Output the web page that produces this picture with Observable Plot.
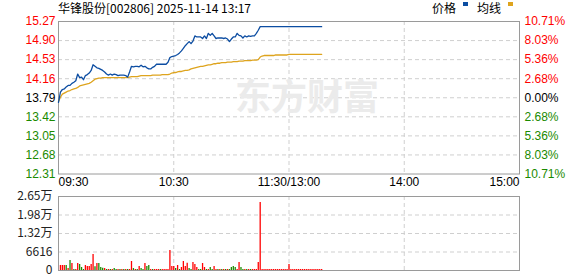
<!DOCTYPE html>
<html>
<head>
<meta charset="utf-8">
<script src="https://cdn.jsdelivr.net/npm/d3@7"></script>
<script src="https://cdn.jsdelivr.net/npm/@observablehq/plot@0.6"></script>
<style>
  html, body { margin: 0; padding: 0; background: #fff; }
  #wrap { position: relative; width: 578px; height: 276px; background: #fff; overflow: hidden;
          font-family: "Liberation Sans", Arial, sans-serif; }
  #main, #vol { position: absolute; left: 0; }
  #main { top: 0; }
  #vol { top: 190px; }
  #title { position: absolute; left: 58px; top: 0; height: 16px; line-height: 16px;
           font-size: 12px; font-family: "Noto Sans CJK SC", sans-serif; color: #000; white-space: nowrap; }
  #legend { position: absolute; left: 432px; top: 0; height: 16px; line-height: 16px;
            font-size: 12px; font-family: "Noto Sans CJK SC", sans-serif; color: #000; white-space: nowrap; }
  #legend span.sw { display: inline-block; width: 5px; height: 4px; vertical-align: 7px; margin: 0 9px 0 7px; }
</style>
</head>
<body>
<div id="wrap">
  <div id="main"></div>
  <div id="vol"></div>
  <div id="title"></div>
  <div id="legend"></div>
</div>
<script>
// ---- data ----
const stockName = "华锋股份";
const stockCode = "002806";
const stamp = "2025-11-14 13:17";
const seriesNames = ["价格", "均线"];
const prevClose = 13.79;

// minute index 0 = 09:30, 120 = 11:30/13:00, 240 = 15:00
const price = [
  13.70,13.90,13.95,13.96,14.00,14.03,14.03,14.07,14.09,14.12,
  14.25,14.18,14.19,14.14,14.22,14.24,14.27,14.32,14.43,14.40,
  14.37,14.36,14.34,14.32,14.29,14.25,14.23,14.25,14.23,14.25,
  14.24,14.22,14.23,14.23,14.23,14.22,14.19,14.29,14.40,14.39,
  14.40,14.40,14.39,14.42,14.39,14.40,14.37,14.35,14.35,14.38,
  14.40,14.44,14.44,14.44,14.44,14.44,14.44,14.48,14.57,14.59,
  14.60,14.61,14.63,14.66,14.70,14.75,14.80,14.84,14.88,14.84,
  14.89,14.99,14.97,14.97,14.97,14.94,14.99,14.94,15.04,15.00,
  15.04,14.99,14.94,14.95,14.95,14.95,14.94,14.95,14.93,14.88,
  14.93,14.97,14.97,15.04,15.00,14.99,14.95,14.99,14.97,14.99,
  14.98,14.99,14.99,15.04,15.10,15.17,15.17,15.17,15.17,15.17,
  15.17,15.17,15.17,15.17,15.17,15.17,15.17,15.17,15.17,15.17,
  15.17,15.17,15.17,15.17,15.17,15.17,15.17,15.17,15.17,15.17,
  15.17,15.17,15.17,15.17,15.17,15.17,15.17,15.17
];
const avgPrice = [
  13.72,13.80,13.86,13.88,13.90,13.92,13.93,13.95,13.96,13.97,
  13.99,14.02,14.03,14.04,14.05,14.06,14.07,14.09,14.12,14.15,
  14.16,14.17,14.17,14.18,14.18,14.18,14.18,14.18,14.18,14.18,
  14.18,14.18,14.18,14.18,14.18,14.18,14.18,14.19,14.20,14.20,
  14.20,14.20,14.21,14.22,14.22,14.22,14.22,14.22,14.22,14.23,
  14.23,14.23,14.23,14.23,14.24,14.24,14.24,14.24,14.25,14.27,
  14.28,14.28,14.29,14.30,14.30,14.31,14.32,14.32,14.33,14.35,
  14.36,14.37,14.38,14.39,14.40,14.40,14.41,14.42,14.43,14.43,
  14.44,14.45,14.45,14.46,14.46,14.47,14.47,14.47,14.48,14.48,
  14.48,14.49,14.49,14.49,14.50,14.50,14.50,14.51,14.51,14.51,
  14.51,14.52,14.52,14.52,14.53,14.58,14.60,14.61,14.61,14.61,
  14.61,14.61,14.61,14.62,14.62,14.62,14.62,14.62,14.62,14.62,
  14.63,14.63,14.63,14.63,14.63,14.63,14.63,14.63,14.63,14.63,
  14.63,14.63,14.63,14.63,14.63,14.63,14.63,14.63
];
// volume for minutes 1..137 (lots) and direction (r = up, g = down)
const volume = [
  1800,1800,1800,1800,700,3580,2500,360,360,2500,
  2150,1070,360,1790,1430,1430,2150,5720,1300,2500,
  2500,1070,800,700,360,360,360,360,700,360,
  360,360,360,360,360,360,360,3220,700,360,
  360,1430,700,360,2500,1430,1790,360,360,360,
  360,360,360,360,360,360,360,7150,1430,1430,
  700,1790,360,1070,3220,1430,2620,700,360,2860,
  2150,1070,360,360,2500,1070,360,360,1070,360,
  1430,360,360,360,360,360,360,360,360,1070,
  1430,1070,360,2860,1070,360,360,360,360,360,
  360,360,360,2860,24300,360,360,360,360,360,
  360,360,360,360,360,360,360,360,360,2150,
  360,360,360,360,360,360,360,360,360,360,
  360,360,360,360,360,360,360
];
const direction = [
  "r","r","r","g","r","g","r","g","r","r",
  "g","g","g","r","r","r","r","r","g","r",
  "g","g","g","r","g","r","g","r","g","g",
  "r","g","r","g","r","g","r","r","g","r",
  "g","r","g","g","r","g","g","r","g","r",
  "r","r","g","r","r","r","r","r","r","r",
  "g","r","g","r","r","r","r","g","g","r",
  "r","r","g","g","r","r","g","r","g","g",
  "r","r","g","r","g","r","g","r","g","g",
  "g","g","r","r","g","g","r","g","r","g",
  "r","r","r","r","r","r","r","r","r","r",
  "r","r","r","r","r","r","r","r","r","r",
  "r","r","r","r","r","r","r","r","r","r",
  "r","r","r","r","r","r","r"
];

const priceTicks = [12.31,12.68,13.05,13.42,13.79,14.16,14.53,14.90,15.27];
const priceTickLabels = ["12.31","12.68","13.05","13.42","13.79","14.16","14.53","14.90","15.27"];
const pctTickLabels = ["10.71%","8.03%","5.36%","2.68%","0.00%","2.68%","5.36%","8.03%","10.71%"];
const timeTicks = [0, 60, 120, 180, 240];
const timeTickLabels = ["09:30", "10:30", "11:30/13:00", "14:00", "15:00"];
const volTicks = [0, 6616, 13232, 19848, 26464];
const volTickLabels = ["0", "6616", "1.32万", "1.98万", "2.65万"];
const watermark = "东方财富";

// ---- styling ----
const RED = "#ff0000", GREEN = "#1a8a00", BLUE = "#0c4da2", GOLD = "#dea41e";
const GRID = "#cfcfcf", FRAME = "#9a9a9a";
const font = {fontSize: "12px", fontFamily: "'Liberation Sans', Arial, sans-serif", background: "transparent", overflow: "visible"};

const rows = price.map((p, i) => ({m: i, p, a: avgPrice[i]}));
const volRows = volume.map((v, i) => ({m: i + 1, v, d: direction[i]}));

const lbl = (ticks, labels) => d => labels[ticks.indexOf(d)];
const upT = priceTicks.filter(t => t > prevClose);
const midT = priceTicks.filter(t => t === prevClose);
const dnT = priceTicks.filter(t => t < prevClose);

const main = Plot.plot({
  width: 578, height: 190,
  marginLeft: 58, marginRight: 59, marginTop: 21, marginBottom: 16.5,
  style: font,
  x: {domain: [0, 240], axis: null},
  y: {domain: [12.31, 15.27], axis: null},
  marks: [
    Plot.ruleY(priceTicks.slice(1, -1), {stroke: GRID, strokeDasharray: "4,3"}),
    Plot.ruleX(timeTicks.slice(1, -1), {stroke: GRID, strokeDasharray: "4,3"}),
    Plot.text([watermark], {frameAnchor: "middle", dx: 18, dy: 1, fontSize: 36, fontWeight: "bold", fill: "#ebebeb", fontFamily: "Noto Sans CJK SC"}),
    Plot.frame({stroke: FRAME}),
    Plot.axisY({ticks: upT, tickFormat: lbl(priceTicks, priceTickLabels), tickSize: 0, tickPadding: 3, fill: RED, label: null}),
    Plot.axisY({ticks: midT, tickFormat: lbl(priceTicks, priceTickLabels), tickSize: 0, tickPadding: 3, fill: "#000", label: null}),
    Plot.axisY({ticks: dnT, tickFormat: lbl(priceTicks, priceTickLabels), tickSize: 0, tickPadding: 3, fill: GREEN, label: null}),
    Plot.axisY({anchor: "right", ticks: upT, tickFormat: lbl(priceTicks, pctTickLabels), tickSize: 0, tickPadding: 5, fill: RED, label: null}),
    Plot.axisY({anchor: "right", ticks: midT, tickFormat: lbl(priceTicks, pctTickLabels), tickSize: 0, tickPadding: 5, fill: "#000", label: null}),
    Plot.axisY({anchor: "right", ticks: dnT, tickFormat: lbl(priceTicks, pctTickLabels), tickSize: 0, tickPadding: 5, fill: GREEN, label: null}),
    Plot.axisX({ticks: timeTicks.slice(1, -1), tickFormat: lbl(timeTicks, timeTickLabels), tickSize: 0, tickPadding: 3, label: null}),
    Plot.axisX({ticks: [timeTicks[0]], tickFormat: lbl(timeTicks, timeTickLabels), tickSize: 0, tickPadding: 3, textAnchor: "start", label: null}),
    Plot.axisX({ticks: [timeTicks[4]], tickFormat: lbl(timeTicks, timeTickLabels), tickSize: 0, tickPadding: 3, textAnchor: "end", label: null}),
    Plot.line(rows, {x: "m", y: "a", stroke: GOLD, strokeWidth: 1.3}),
    Plot.line(rows, {x: "m", y: "p", stroke: BLUE, strokeWidth: 1.3})
  ]
});
document.getElementById("main").appendChild(main);

const vol = Plot.plot({
  width: 578, height: 86,
  marginLeft: 58, marginRight: 59, marginTop: 6, marginBottom: 6,
  style: font,
  x: {domain: [0, 240], axis: null},
  y: {domain: [0, 26464], axis: null},
  marks: [
    Plot.ruleY(volTicks.slice(1, -1), {stroke: GRID, strokeDasharray: "4,3"}),
    Plot.ruleX(timeTicks.slice(1, -1), {stroke: GRID, strokeDasharray: "4,3"}),
    Plot.ruleX(volRows, {x: "m", y1: 0, y2: "v", stroke: d => d.d === "r" ? RED : GREEN, strokeWidth: 1.3}),
    Plot.frame({stroke: FRAME}),
    Plot.axisY({ticks: volTicks, tickFormat: lbl(volTicks, volTickLabels), tickSize: 0, tickPadding: 6, fill: "#222", label: null, fontFamily: "Noto Sans CJK SC, Liberation Sans, sans-serif"})
  ]
});
document.getElementById("vol").appendChild(vol);

document.getElementById("title").textContent = `${stockName}[${stockCode}] ${stamp}`;
const lg = document.getElementById("legend");
lg.innerHTML = `${seriesNames[0]}<span class="sw" style="background:${BLUE}"></span>${seriesNames[1]}<span class="sw" style="background:${GOLD}"></span>`;
</script>
</body>
</html>
